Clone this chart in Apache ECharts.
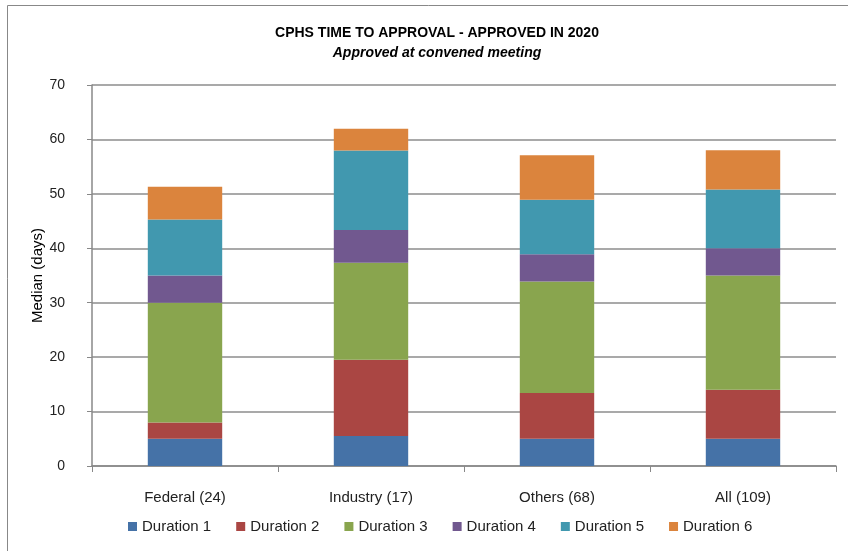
<!DOCTYPE html>
<html>
<head>
<meta charset="utf-8">
<script src="https://cdn.jsdelivr.net/npm/echarts@6/dist/echarts.min.js"></script>
<style>
  html, body { margin: 0; padding: 0; background: #fff; }
  #chart { width: 848px; height: 551px; }
</style>
</head>
<body>
<div id="chart"></div>
<script>
  // categories and the stacked duration segments (days)
  var categories = ['Federal (24)', 'Industry (17)', 'Others (68)', 'All (109)'];
  var duration1 = [5, 5.5, 5, 5];
  var duration2 = [3, 14, 8.4, 9];
  var duration3 = [22, 17.85, 20.5, 21];
  var duration4 = [5, 6, 5, 5];
  var duration5 = [10.3, 14.6, 10, 10.8];
  var duration6 = [6, 4, 8.2, 7.2];
  var seriesNames = ['Duration 1', 'Duration 2', 'Duration 3', 'Duration 4', 'Duration 5', 'Duration 6'];
  var seriesData = [duration1, duration2, duration3, duration4, duration5, duration6];
  var colors = ['#4572a7', '#aa4643', '#89a54e', '#71588f', '#4198af', '#db843d'];

  var font = '"Liberation Sans", sans-serif';

  var chart = echarts.init(document.getElementById('chart'), null, { renderer: 'canvas' });

  var series = seriesNames.map(function (name, i) {
    return {
      name: name,
      type: 'bar',
      stack: 'total',
      barWidth: '40%',
      data: seriesData[i],
      itemStyle: { color: colors[i] }
    };
  });

  chart.setOption({
    animation: false,
    color: colors,
    title: {
      text: 'CPHS TIME TO APPROVAL - APPROVED IN 2020',
      subtext: 'Approved at convened meeting',
      left: 432,
      textAlign: 'center',
      top: 21,
      itemGap: 6,
      textStyle: { fontFamily: font, fontSize: 14, fontWeight: 'bold', color: '#000' },
      subtextStyle: { fontFamily: font, fontSize: 14, fontWeight: 'bold', fontStyle: 'italic', color: '#000' }
    },
    graphic: [{
      type: 'rect',
      shape: { x: 7.5, y: 5.5, width: 900, height: 600 },
      style: { fill: 'none', stroke: '#888', lineWidth: 1 },
      silent: true
    }],
    legend: {
      bottom: 12,
      left: 123,
      itemWidth: 9,
      itemHeight: 9,
      itemGap: 25,
      icon: 'rect',
      textStyle: { fontFamily: font, fontSize: 15, color: '#222' },
      data: seriesNames
    },
    grid: { left: 92, right: 12, top: 85, bottom: 85, containLabel: false },
    xAxis: {
      type: 'category',
      data: categories,
      axisLine: { lineStyle: { color: '#888', width: 1.5 } },
      axisTick: { show: true, alignWithLabel: false, length: 6, lineStyle: { color: '#888' } },
      axisLabel: { fontFamily: font, fontSize: 15, color: '#222', margin: 24 }
    },
    yAxis: {
      type: 'value',
      min: 0,
      max: 70,
      interval: 10,
      name: 'Median (days)',
      nameLocation: 'middle',
      nameGap: 47,
      nameMoveOverlap: false,
      nameTextStyle: { fontFamily: font, fontSize: 15, color: '#000' },
      axisLine: { show: true, lineStyle: { color: '#888', width: 1.5 } },
      axisTick: { show: true, length: 5, lineStyle: { color: '#888' } },
      axisLabel: { fontFamily: font, fontSize: 14, color: '#222', margin: 27 },
      splitLine: { lineStyle: { color: '#8c8c8c', width: 1.5 } }
    },
    series: series
  });
</script>
</body>
</html>
